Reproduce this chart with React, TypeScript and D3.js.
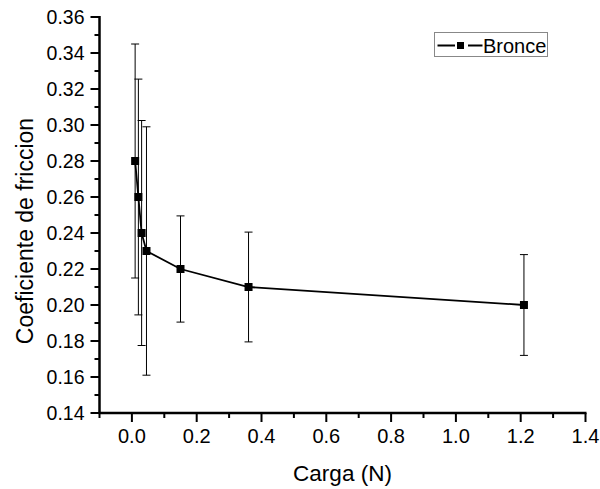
import React from "react";
import * as d3 from "d3";

const loads = [0.01, 0.02, 0.03, 0.045, 0.15, 0.36, 1.21];
const friction = [0.28, 0.26, 0.24, 0.23, 0.22, 0.21, 0.2];
const errors = [0.065, 0.0655, 0.0625, 0.069, 0.0295, 0.0305, 0.028];
const xTicks = [0, 0.2, 0.4, 0.6, 0.8, 1.0, 1.2, 1.4];
const yTicks = [0.14, 0.16, 0.18, 0.2, 0.22, 0.24, 0.26, 0.28, 0.3, 0.32, 0.34, 0.36];
const seriesName = "Bronce";
const xTitle = "Carga (N)";
const yTitle = "Coeficiente de friccion";

const W = 600;
const H = 489;
const FONT = "Arial, 'Liberation Sans', Helvetica, sans-serif";

export default function App() {
  const x = d3.scaleLinear().domain([-0.1, 1.4]).range([99.5, 585.5]);
  const y = d3.scaleLinear().domain([0.14, 0.36]).range([413, 17]);
  const x0 = x.range()[0];
  const y0 = y.range()[0];

  const xMinor = d3.range(-0.1, 1.45, 0.1).filter((v) => Math.abs(Math.round(v * 10) % 2) === 1);
  const yMinor = d3.range(0.15, 0.36, 0.02);

  const pts = loads.map((v, i) => ({ x: v, y: friction[i], e: errors[i] }));
  const line = d3
    .line<{ x: number; y: number }>()
    .x((d) => x(d.x))
    .y((d) => y(d.y));

  const ms = 8;
  const cap = 4;

  return (
    <svg width={W} height={H} style={{ position: "absolute", left: 0, top: 0, background: "#fff" }}>
      <rect x={0} y={0} width={W} height={H} fill="#fff" />
      {/* error bars */}
      {pts.map((d, i) => (
        <g key={"e" + i} stroke="#000" strokeWidth={1}>
          <line x1={x(d.x)} x2={x(d.x)} y1={y(d.y + d.e)} y2={y(d.y - d.e)} />
          <line x1={x(d.x) - cap} x2={x(d.x) + cap} y1={y(d.y + d.e)} y2={y(d.y + d.e)} />
          <line x1={x(d.x) - cap} x2={x(d.x) + cap} y1={y(d.y - d.e)} y2={y(d.y - d.e)} />
        </g>
      ))}
      <path d={line(pts) || ""} fill="none" stroke="#000" strokeWidth={1.8} />
      {pts.map((d, i) => (
        <rect key={"m" + i} x={x(d.x) - ms / 2} y={y(d.y) - ms / 2} width={ms} height={ms} fill="#000" />
      ))}

      {/* y axis */}
      <line x1={x0} x2={x0} y1={y.range()[1] - 1} y2={y0 + 1} stroke="#000" strokeWidth={2.5} />
      {yTicks.map((t) => (
        <g key={"yt" + t}>
          <line x1={x0 - 9} x2={x0} y1={y(t)} y2={y(t)} stroke="#000" strokeWidth={2} />
          <text x={x0 - 15} y={y(t) + 7} textAnchor="end" fontFamily={FONT} fontSize={19.5} fill="#000">
            {t.toFixed(2)}
          </text>
        </g>
      ))}
      {yMinor.map((t) => (
        <line key={"ym" + t} x1={x0 - 5} x2={x0} y1={y(t)} y2={y(t)} stroke="#000" strokeWidth={2} />
      ))}

      {/* x axis */}
      <line x1={x0 - 1} x2={x.range()[1] + 1} y1={y0} y2={y0} stroke="#000" strokeWidth={2.5} />
      {xTicks.map((t) => (
        <g key={"xt" + t}>
          <line x1={x(t)} x2={x(t)} y1={y0} y2={y0 + 9} stroke="#000" strokeWidth={2} />
          <text x={x(t)} y={y0 + 30} textAnchor="middle" fontFamily={FONT} fontSize={20} fill="#000">
            {t.toFixed(1)}
          </text>
        </g>
      ))}
      {xMinor.map((t) => (
        <line key={"xm" + t} x1={x(t)} x2={x(t)} y1={y0} y2={y0 + 5} stroke="#000" strokeWidth={2} />
      ))}

      {/* titles */}
      <text x={(x.range()[0] + x.range()[1]) / 2} y={481} textAnchor="middle" fontFamily={FONT} fontSize={22.5} fill="#000">
        {xTitle}
      </text>
      <text
        transform={`translate(33,231) rotate(-90)`}
        textAnchor="middle"
        fontFamily={FONT}
        fontSize={23}
        fill="#000"
      >
        {yTitle}
      </text>

      {/* legend */}
      <rect x={434.5} y={32.5} width={113} height={24} fill="#fff" stroke="#888" strokeWidth={1} />
      <line x1={437.5} x2={455} y1={45.5} y2={45.5} stroke="#000" strokeWidth={2} />
      <line x1={468} x2={482.5} y1={45.5} y2={45.5} stroke="#000" strokeWidth={2} />
      <rect x={457} y={42} width={7} height={7} fill="#000" />
      <text x={483} y={52.5} fontFamily={FONT} fontSize={20} fill="#000">
        {seriesName}
      </text>
    </svg>
  );
}
